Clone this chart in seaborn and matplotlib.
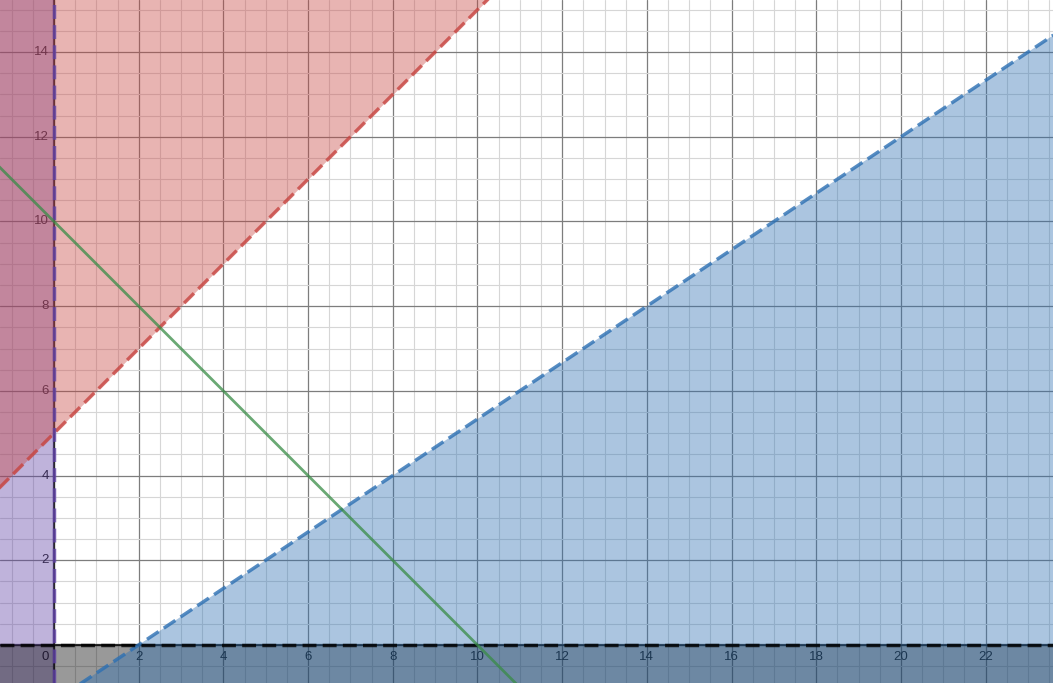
import numpy as np
import seaborn as sns
import matplotlib.pyplot as plt

# View window (graph units)
x_view = [-1.275, 23.59]
y_view = [-0.897, 15.23]

# Boundary lines (endpoints at the view edges)
red_x = [-1.3, 10.3]      # y = x + 5, shaded above
red_y = [3.7, 15.3]
blue_x = [0.6, 23.6]      # y = (2x - 4) / 3, shaded below
blue_y = [-0.93, 14.4]
green_x = [-1.3, 11.0]    # x + y = 10, no shading
green_y = [11.3, -1.0]

# Tick labels
x_ticks = [2, 4, 6, 8, 10, 12, 14, 16, 18, 20, 22]
y_ticks = [2, 4, 6, 8, 10, 12, 14]

RED = "#c74440"
BLUE = "#2d70b3"
GREEN = "#388c46"
PURPLE = "#6042a6"
BLACK = "#000000"

sns.set_style("white")
plt.rcParams["font.family"] = ["Liberation Sans", "DejaVu Sans"]

fig = plt.figure(figsize=(10.53, 6.83), dpi=100)
ax = fig.add_axes([0, 0, 1, 1])

# Grid
ax.set_xticks(np.arange(-2, 25, 2))
ax.set_yticks(np.arange(-2, 17, 2))
ax.set_xticks(np.arange(-1, 24, 0.5), minor=True)
ax.set_yticks(np.arange(-1, 16, 0.5), minor=True)
ax.grid(which="major", color="#7d7d7d", lw=0.9, zorder=0)
ax.grid(which="minor", color="#d6d6d6", lw=0.8, zorder=0)
ax.tick_params(which="both", length=0, labelbottom=False, labelleft=False)
ax.set_axisbelow(True)
for s in ax.spines.values():
    s.set_visible(False)

# Axes lines
ax.axhline(0, color="#2b2b2b", lw=1.6, zorder=1)
ax.axvline(0, color="#2b2b2b", lw=1.6, zorder=1)

# Tick labels (drawn under the shading)
fs = 9.5
for t in x_ticks:
    ax.text(t, -0.28, str(t), ha="center", va="center", fontsize=fs,
            color="#1e1e1e", zorder=1)
for t in y_ticks:
    ax.text(-0.12, t, str(t), ha="right", va="center", fontsize=fs,
            color="#1e1e1e", zorder=1)
ax.text(-0.21, -0.28, "0", ha="center", va="center", fontsize=fs,
        color="#1e1e1e", zorder=1)

# Shaded regions
ax.axvspan(x_view[0] - 1, 0, color=PURPLE, alpha=0.4, lw=0, zorder=2)
ax.axhspan(y_view[0] - 1, 0, color=BLACK, alpha=0.4, lw=0, zorder=2)
ax.fill_between(red_x, red_y, 16, color=RED, alpha=0.4, lw=0, zorder=2)
ax.fill_between(blue_x, blue_y, -2, color=BLUE, alpha=0.4, lw=0, zorder=2)

# Boundary lines
dash = (4, 1.8)
sns.lineplot(x=red_x, y=red_y, color=RED, lw=2.5, ax=ax,
             linestyle=(0, dash), alpha=0.8, zorder=3)
sns.lineplot(x=blue_x, y=blue_y, color=BLUE, lw=2.5, ax=ax,
             linestyle=(0, dash), alpha=0.8, zorder=3)
ax.axvline(0, color=PURPLE, lw=2.5, linestyle=(0, dash), alpha=0.8, zorder=3)
ax.axhline(0, color=BLACK, lw=2.5, linestyle=(0, dash), alpha=0.8, zorder=3)
sns.lineplot(x=green_x, y=green_y, color=GREEN, lw=2.0, ax=ax,
             alpha=0.75, zorder=4)

ax.set_xlim(x_view)
ax.set_ylim(y_view)
ax.set_xlabel("")
ax.set_ylabel("")

plt.savefig("out.png", dpi=100)
